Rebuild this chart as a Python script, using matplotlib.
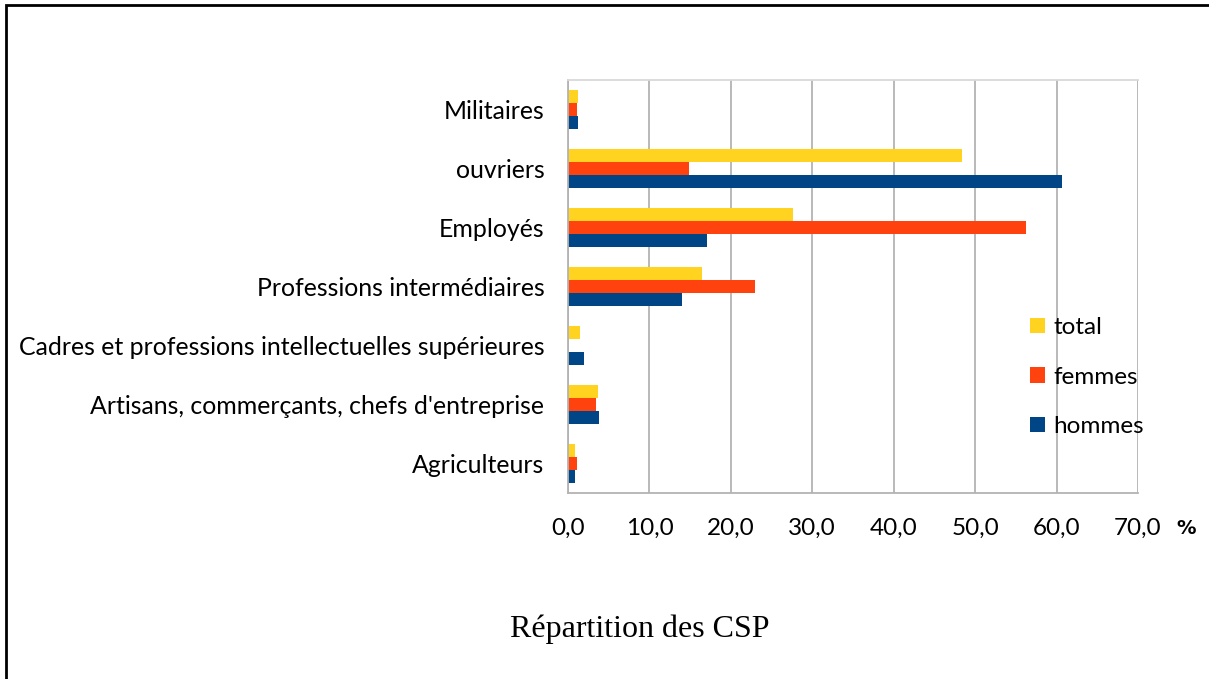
import matplotlib.pyplot as plt
import numpy as np
from matplotlib.patches import Rectangle

categories = ["Agriculteurs", "Artisans, commerçants, chefs d'entreprise",
              "Cadres et professions intellectuelles supérieures",
              "Professions intermédiaires", "Employés", "ouvriers", "Militaires"]
hommes = [0.8, 3.8, 2.0, 14.0, 17.1, 60.7, 1.2]
femmes = [1.1, 3.4, 0.0, 23.0, 56.3, 14.9, 1.1]
total = [0.9, 3.7, 1.5, 16.5, 27.6, 48.4, 1.2]
xticks = [0, 10, 20, 30, 40, 50, 60, 70]

c_total = "#ffd320"
c_femmes = "#ff420e"
c_hommes = "#004586"

plt.rcParams['font.family'] = ['Lato', 'DejaVu Sans']

fig = plt.figure(figsize=(12.09, 6.79), dpi=100)
ax = fig.add_axes([568 / 1209, 1 - 493 / 679, 570 / 1209, 413 / 679])

y = np.arange(len(categories))
h = 0.22
ax.barh(y - h, hommes, height=h, color=c_hommes, label="hommes")
ax.barh(y, femmes, height=h, color=c_femmes, label="femmes")
ax.barh(y + h, total, height=h, color=c_total, label="total")

ax.set_xlim(0, 70)
ax.set_ylim(-0.5, len(categories) - 0.5)
ax.set_xticks(xticks)
ax.set_xticklabels([f"{v:.1f}".replace(".", ",") for v in xticks], fontsize=17.5)
ax.set_yticks(y)
ax.set_yticklabels(categories, fontsize=17.9)
ax.tick_params(axis="both", length=0)
ax.tick_params(axis="y", pad=17)
ax.tick_params(axis="x", pad=18)
ax.grid(axis="x", color="#b3b3b3", linewidth=1.3)
ax.set_axisbelow(True)
for s in ["left", "bottom", "top"]:
    ax.spines[s].set_color("#b3b3b3")
    ax.spines[s].set_linewidth(1.3)
ax.spines["top"].set_color("#d9d9d9")
ax.spines["right"].set_visible(False)

handles, labels = ax.get_legend_handles_labels()
leg = fig.legend(handles[::-1], labels[::-1], loc="center left",
                 bbox_to_anchor=(1008 / 1209, 1 - 377 / 679), frameon=False,
                 fontsize=17.5, handlelength=0.62, handleheight=0.62,
                 labelspacing=1.17, handletextpad=0.35)

fig.text(1186 / 1209, 1 - 528 / 679, "%", fontsize=14, fontweight="bold",
         family="DejaVu Sans", ha="center", va="center")
fig.text(640 / 1209, 1 - 629 / 679, "Répartition des CSP", fontsize=23,
         family="Liberation Serif", ha="center", va="center")

fig.patches.append(Rectangle((6 / 1209, -0.1), 1.2, 1.1 - 5 / 679, transform=fig.transFigure,
                             fill=False, edgecolor="black", linewidth=2.0))

fig.savefig("out.png", dpi=100)
